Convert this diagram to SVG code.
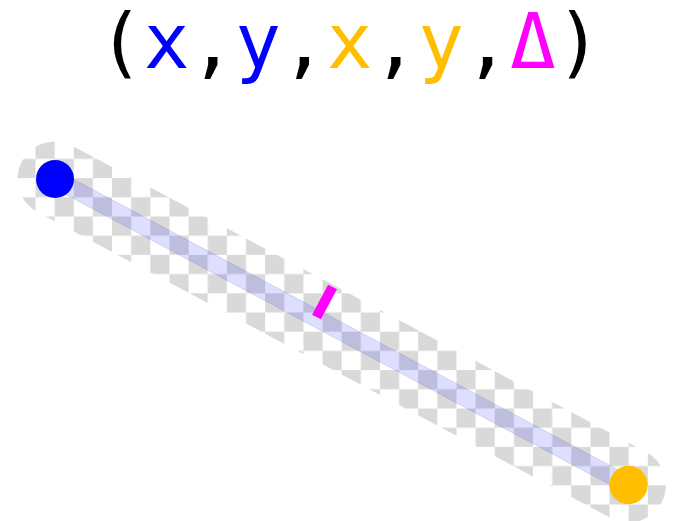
<svg xmlns="http://www.w3.org/2000/svg" width="673" height="521" viewBox="0 0 673 521">
  <defs>
    <pattern id="checker" patternUnits="userSpaceOnUse" x="35.52" y="24.5" width="38.27" height="38.4">
      <rect x="0" y="0" width="19.14" height="19.2" fill="#d9d9d9"/>
      <rect x="19.14" y="19.2" width="19.13" height="19.2" fill="#d9d9d9"/>
    </pattern>
    <style>
      .title { font-family: "DejaVu Sans Mono", "Liberation Mono", monospace; font-size: 76px; }
      .blk { fill: #000000; }
      .b { fill: #0000ff; }
      .o { fill: #ffbf00; }
      .m { fill: #ff00ff; }
      .edge { stroke: #6a6aa0; stroke-opacity: 0.35; stroke-width: 0.6; }
    </style>
  </defs>
  <rect width="673" height="521" fill="#ffffff"/>
  <g id="title">
    <text class="title" x="98" y="68"><tspan class="blk">(</tspan><tspan class="b">x</tspan><tspan class="blk">,</tspan><tspan class="b">y</tspan><tspan class="blk">,</tspan><tspan class="o">x</tspan><tspan class="blk">,</tspan><tspan class="o">y</tspan><tspan class="blk">,</tspan><tspan class="m">Δ</tspan><tspan class="blk">)</tspan></text>
  </g>
  <g id="connectors">
    <line id="checker-band" x1="55" y1="179" x2="628.5" y2="485" stroke="url(#checker)" stroke-width="75" stroke-linecap="round"/>
    <line id="segment" x1="55" y1="179" x2="628.5" y2="485" stroke="#0000ff" stroke-opacity="0.13" stroke-width="17"/>
    <line class="edge" x1="59.0" y1="171.5" x2="632.5" y2="477.5"/>
    <line class="edge" x1="51.0" y1="186.5" x2="624.5" y2="492.5"/>
  </g>
  <g id="tick">
    <rect x="-5" y="-17" width="10" height="34" fill="#ff00ff" transform="translate(324.5,302) rotate(28.1)"/>
  </g>
  <g id="start-point">
    <circle cx="55" cy="179" r="19" fill="#0000ff"/>
  </g>
  <g id="end-point">
    <circle cx="628.5" cy="485" r="19.2" fill="#ffbf00"/>
  </g>
</svg>
